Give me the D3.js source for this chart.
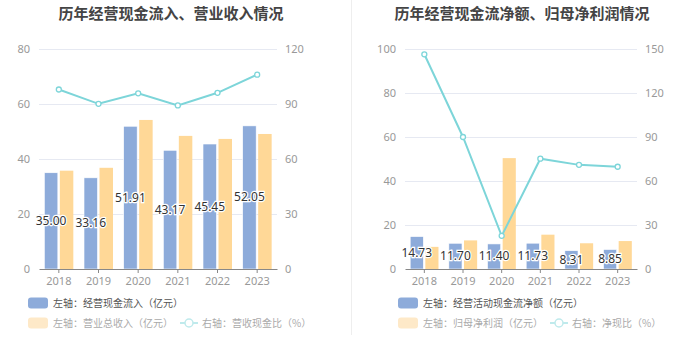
<!DOCTYPE html>
<html>
<head>
<meta charset="utf-8">
<script src="https://cdn.jsdelivr.net/npm/d3@7"></script>
<style>
  body { margin: 0; background: #fff; }
  svg { display: block; font-family: "Noto Sans CJK SC", "Noto Sans", sans-serif; }
</style>
</head>
<body>
<div id="mainDiv"></div>
<script>
'use strict';

// data
var years = ['2018', '2019', '2020', '2021', '2022', '2023'];

var cashIn  = [35.00, 33.16, 51.91, 43.17, 45.45, 52.05];
var revenue = [35.75, 36.80, 54.20, 48.40, 47.30, 49.10];
var cashRevRatio = [97.9, 90.1, 95.8, 89.2, 96.1, 106.0];

var netCash   = [14.73, 11.70, 11.40, 11.73, 8.31, 8.85];
var netProfit = [10.06, 13.00, 50.40, 15.60, 11.70, 12.70];
var netCashRatio = [146.4, 90.0, 22.6, 75.2, 71.0, 69.7];

var leftTicks1  = [0, 20, 40, 60, 80];
var rightTicks1 = [0, 30, 60, 90, 120];
var leftTicks2  = [0, 20, 40, 60, 80, 100];
var rightTicks2 = [0, 30, 60, 90, 120, 150];

var blue = '#8dabda', yellow = '#ffd897', teal = '#7dd5d9';

var myApp = {};

myApp.svg = d3.select('#mainDiv').append('svg')
    .attr('width', 700)
    .attr('height', 360);

// divider between panels
myApp.svg.append('line')
    .attr('x1', 351.5).attr('x2', 351.5)
    .attr('y1', 0).attr('y2', 335)
    .attr('stroke', '#eeeeee');

myApp.drawPanel = function(p)
{
    var svg = myApp.svg;
    var x = d3.scaleBand().domain(years).range([p.left, p.right]);
    var yL = d3.scaleLinear().domain([0, d3.max(p.leftTicks)]).range([269, 49]);
    var yR = d3.scaleLinear().domain([0, d3.max(p.rightTicks)]).range([269, 49]);

    svg.append('text')
        .attr('x', p.titleX).attr('y', 19)
        .attr('text-anchor', 'middle')
        .attr('font-size', 15).attr('font-weight', 'bold')
        .attr('fill', '#444')
        .text(p.title);

    // grid
    svg.append('g').selectAll('line')
        .data(p.leftTicks.slice(1))
        .enter().append('line')
        .attr('x1', p.left).attr('x2', p.right)
        .attr('y1', function(d){ return Math.round(yL(d)) + 0.5; })
        .attr('y2', function(d){ return Math.round(yL(d)) + 0.5; })
        .attr('stroke', '#e6e9f2');

    var leftAxis = svg.append('g')
        .attr('transform', 'translate(' + p.left + ',0)')
        .call(d3.axisLeft(yL).tickValues(p.leftTicks).tickSize(0).tickPadding(9));
    var rightAxis = svg.append('g')
        .attr('transform', 'translate(' + p.right + ',0)')
        .call(d3.axisRight(yR).tickValues(p.rightTicks).tickSize(0).tickPadding(8));
    [leftAxis, rightAxis].forEach(function(a) {
        a.select('.domain').remove();
        a.selectAll('text').attr('fill', '#999').attr('font-size', 11)
            .attr('font-family', '"Noto Sans", sans-serif');
    });

    var bw = x.bandwidth() * 0.34;

    svg.append('g').selectAll('rect')
        .data(p.bars1).enter().append('rect')
        .attr('x', function(d, i){ return x(years[i]) + x.bandwidth() / 2 - 1 - bw; })
        .attr('y', function(d){ return yL(d); })
        .attr('width', bw)
        .attr('height', function(d){ return 269 - yL(d); })
        .attr('fill', blue)
        .attr('stroke', '#fff').attr('stroke-width', 0.6);

    svg.append('g').selectAll('rect')
        .data(p.bars2).enter().append('rect')
        .attr('x', function(d, i){ return x(years[i]) + x.bandwidth() / 2 + 1; })
        .attr('y', function(d){ return yL(d); })
        .attr('width', bw)
        .attr('height', function(d){ return 269 - yL(d); })
        .attr('fill', yellow);

    // x axis
    var xAxis = svg.append('g')
        .attr('transform', 'translate(0,269)')
        .call(d3.axisBottom(x).tickSize(4).tickSizeOuter(0).tickPadding(4));
    xAxis.select('.domain').attr('stroke', '#888');
    xAxis.selectAll('line').attr('stroke', '#888');
    xAxis.selectAll('text').attr('fill', '#999').attr('font-size', 11)
        .attr('font-family', '"Noto Sans", sans-serif');

    // line
    var line = d3.line()
        .x(function(d, i){ return x(years[i]) + x.bandwidth() / 2; })
        .y(function(d){ return yR(d); });
    svg.append('path')
        .datum(p.ratio)
        .attr('d', line)
        .attr('fill', 'none')
        .attr('stroke', teal).attr('stroke-width', 2);
    svg.append('g').selectAll('circle')
        .data(p.ratio).enter().append('circle')
        .attr('cx', function(d, i){ return x(years[i]) + x.bandwidth() / 2; })
        .attr('cy', function(d){ return yR(d); })
        .attr('r', 2.5)
        .attr('fill', '#fff')
        .attr('stroke', teal).attr('stroke-width', 1.3);

    // value labels
    svg.append('g').selectAll('text')
        .data(p.bars1).enter().append('text')
        .attr('x', function(d, i){ return x(years[i]) + x.bandwidth() / 2 - 1 - bw / 2; })
        .attr('y', function(d){ return (yL(d) + 269) / 2 + 4; })
        .attr('text-anchor', 'middle')
        .attr('font-size', 12)
        .attr('font-family', '"Noto Sans", sans-serif')
        .attr('fill', '#333')
        .attr('stroke', '#fff').attr('stroke-width', 2.5)
        .attr('paint-order', 'stroke')
        .text(function(d){ return d.toFixed(2); });

    // legend
    var lg = svg.append('g');
    lg.append('rect')
        .attr('x', p.legX).attr('y', 297.5).attr('width', 20).attr('height', 11)
        .attr('rx', 3).attr('fill', blue);
    lg.append('text')
        .attr('x', p.legX + 25).attr('y', 306.5)
        .attr('font-size', 10).attr('fill', '#555')
        .text(p.leg1);
    lg.append('rect')
        .attr('x', p.legX).attr('y', 317.5).attr('width', 20).attr('height', 11)
        .attr('rx', 3).attr('fill', '#fee9c8');
    lg.append('text')
        .attr('x', p.legX + 25).attr('y', 326.5)
        .attr('font-size', 10).attr('fill', '#aaa')
        .text(p.leg2);
    lg.append('line')
        .attr('x1', p.lineLegX).attr('x2', p.lineLegX + 18)
        .attr('y1', 323).attr('y2', 323)
        .attr('stroke', '#bfeaec').attr('stroke-width', 2);
    lg.append('circle')
        .attr('cx', p.lineLegX + 9).attr('cy', 323).attr('r', 4)
        .attr('fill', '#fff').attr('stroke', '#bfeaec').attr('stroke-width', 1.5);
    lg.append('text')
        .attr('x', p.lineLegX + 22).attr('y', 326.5)
        .attr('font-size', 10).attr('fill', '#aaa')
        .text(p.leg3);
}

myApp.drawPanel({
    title: '历年经营现金流入、营业收入情况', titleX: 171,
    left: 39, right: 277,
    leftTicks: leftTicks1, rightTicks: rightTicks1,
    bars1: cashIn, bars2: revenue, ratio: cashRevRatio,
    legX: 28, lineLegX: 180,
    leg1: '左轴：经营现金流入（亿元）',
    leg2: '左轴：营业总收入（亿元）',
    leg3: '右轴：营收现金比（%）'
});

myApp.drawPanel({
    title: '历年经营现金流净额、归母净利润情况', titleX: 522,
    left: 405, right: 637,
    leftTicks: leftTicks2, rightTicks: rightTicks2,
    bars1: netCash, bars2: netProfit, ratio: netCashRatio,
    legX: 398, lineLegX: 550,
    leg1: '左轴：经营活动现金流净额（亿元）',
    leg2: '左轴：归母净利润（亿元）',
    leg3: '右轴：净现比（%）'
});
</script>
</body>
</html>
